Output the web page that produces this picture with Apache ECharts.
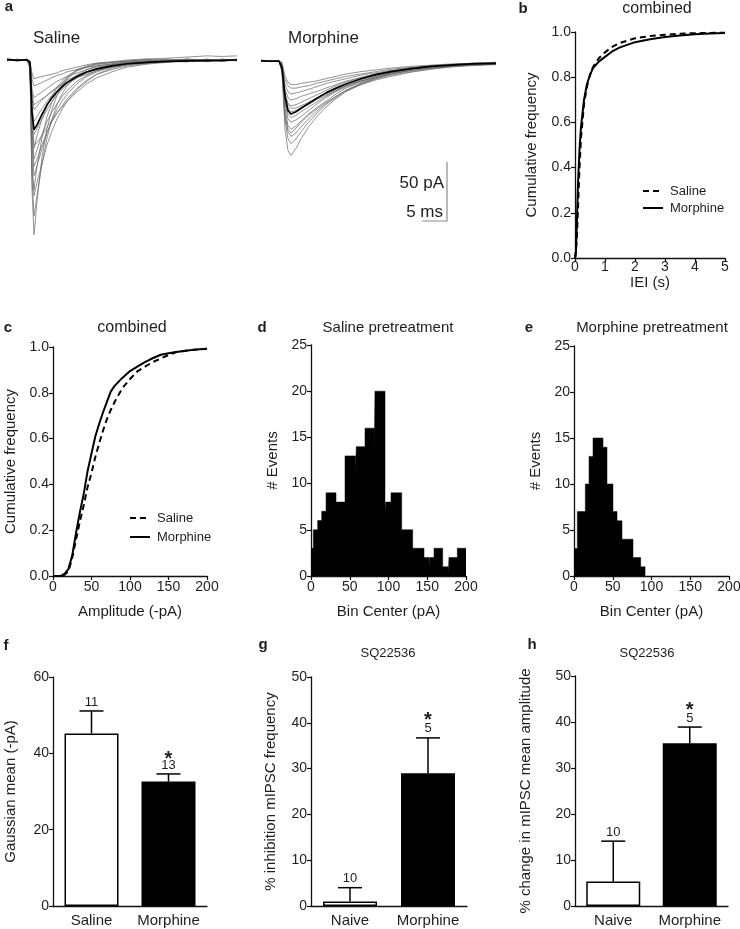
<!DOCTYPE html>
<html><head><meta charset="utf-8">
<script src="https://cdn.jsdelivr.net/npm/echarts@6/dist/echarts.min.js"></script>
<style>html,body{margin:0;padding:0;background:#fff}#c{width:740px;height:929px}</style>
</head><body><div id="c"></div>
<script>
// ---------- Panel a: example mIPSC traces (time ms, current pA) ----------
const salineTime = [0, 2, 4, 4.6, 5.0, 5.4, 6, 7, 8, 9, 10, 11, 12, 14, 16, 18, 21, 24, 28, 32, 36, 40, 43, 46];
const salineMean = [0.5, -0.3, 0.2, -2, -45, -59, -55, -46, -38, -32, -27, -23, -19, -14, -10, -7.5, -5, -3.2, -2, -1.2, -0.8, -0.5, -0.3, 0];
const salineTraces = [
  [0.8, -0.5, 0.6, -4, -110, -148, -120, -82, -58, -42, -30, -22, -16, -9, -6, -3, -2, -1, 0.5, -1, 1, -0.5, 0.6, -0.4],
  [-0.6, 0.7, -0.3, -6, -100, -132, -115, -88, -66, -50, -38, -29, -22, -13, -8, -5, -3, -1.5, -1, 0.8, -0.6, 0.4, -0.8, 0.5],
  [0.4, -0.8, 0.5, -3, -85, -115, -104, -88, -72, -60, -50, -42, -35, -25, -18, -12, -7, -4, -2, -1.5, 0.6, -1, 0.3, -0.6],
  [-0.3, 0.5, -0.6, -5, -70, -98, -90, -75, -62, -51, -42, -35, -29, -20, -14, -10, -6, -4, -2.5, -1, -1.6, 0.5, -0.4, 0.8],
  [0.6, -0.4, 0.3, -2, -60, -84, -76, -63, -52, -44, -37, -31, -26, -18, -13, -9, -5.5, -3, -2, -0.5, -1.2, 0.7, -0.9, 0.2],
  [-0.5, 0.4, -0.2, -3, -50, -72, -70, -64, -57, -51, -45, -40, -35, -27, -20, -15, -10, -6, -3.5, -2, -1, -0.5, -1.2, 0.4],
  [0.3, -0.6, 0.8, -4, -48, -63, -58, -50, -42, -35, -30, -25, -21, -15, -11, -8, -5, -3.5, -1.5, -1.8, 0.3, -0.6, 0.5, -0.3],
  [-0.7, 0.2, -0.5, -2, -40, -52, -48, -41, -35, -30, -26, -22, -19, -14, -10, -7, -4, -2.5, -1, -0.8, -1.4, 0.2, -0.5, 0.6],
  [0.5, -0.3, 0.4, -3, -33, -42, -39, -34, -30, -26, -23, -20, -17, -13, -10, -8, -5, -3, -2, -1, 0.5, -1.5, 0.8, -0.7],
  [-0.4, 0.6, -0.7, -2, -25, -32, -30, -27, -24, -21, -18, -16, -14, -11, -8, -6, -4, -2.5, -1.5, -0.5, -1, 0.3, -0.3, 0.5],
  [0.2, -0.5, 0.3, -1, -16, -22, -21, -19, -17, -15, -13, -12, -10, -8, -6, -5, -3.5, -2, -1, -0.6, 0.6, -0.8, 0.4, -0.2],
  [-0.6, 0.3, -0.2, -1, -11, -16, -15, -14, -13, -12, -11, -9, -8, -6, -4, -2.5, -1.5, 0, 1, 1.5, 2.5, 3.5, 3, 3.5],
  [0.1, -0.2, 0.5, -8, -95, -110, -90, -66, -48, -36, -27, -20, -15, -9, -6, -4, -2, -1, -0.5, 0.3, -0.4, 0.6, -0.2, 0.1],
  [-0.2, 0.5, -0.4, -3, -58, -75, -64, -50, -39, -30, -23, -18, -14, -8, -5, -3, -2, -1, 0.4, -0.6, 0.2, -0.4, 0.3, -0.5],
  [0.3, -0.4, 0.2, -5, -72, -90, -84, -72, -61, -52, -45, -39, -33, -24, -17, -12, -8, -5, -3, -1.5, -0.8, 0.4, -0.6, 0.2],
  [-0.4, 0.2, -0.6, -2, -28, -38, -36, -33, -30, -27, -24, -21, -19, -15, -12, -9, -6, -4, -2.5, -1.2, -0.4, -1, 0.5, -0.3]
];
const morphineTime = [0, 2, 3.6, 4.2, 4.8, 5.4, 6, 7, 8, 9.5, 11, 13, 15, 17, 20, 23, 26, 30, 34, 38, 42, 47];
const morphineMean = [0.3, -0.2, 0, -6, -30, -42, -45, -43, -40, -36, -32, -27, -23, -19.5, -15, -11.5, -9, -6.5, -4.5, -3.5, -2.5, -2];
const morphineTraces = [
  [0.6, -0.4, 0.2, -10, -58, -76, -80, -74, -66, -56, -48, -39, -32, -26, -20, -15, -11, -8, -5, -4, -3, -2.5],
  [-0.5, 0.3, -0.6, -8, -50, -66, -70, -66, -60, -52, -45, -37, -31, -25, -19, -14, -11, -8, -6, -4.5, -3, -3],
  [0.2, 0.5, -0.3, -6, -44, -60, -64, -61, -56, -49, -43, -36, -30, -25, -19, -15, -12, -9, -6.5, -5, -4, -2.5],
  [-0.3, -0.5, 0.4, -5, -40, -55, -58, -55, -51, -45, -40, -34, -28, -23, -18, -14, -10, -7, -5.5, -4, -3.5, -3],
  [0.4, 0.1, -0.2, -4, -36, -49, -52, -50, -47, -42, -37, -31, -26, -22, -17, -13, -10, -7.5, -5, -4, -2.5, -2],
  [-0.6, 0.4, 0.3, -5, -34, -45, -48, -46, -43, -39, -35, -30, -25, -21, -16, -12, -9, -6, -4.5, -3, -2, -1.5],
  [0.2, -0.3, -0.1, -3, -30, -40, -43, -42, -40, -37, -33, -29, -25, -21, -17, -13, -10, -7, -5, -4, -3.5, -2.5],
  [-0.2, 0.6, -0.4, -4, -27, -36, -38, -37, -35, -32, -29, -25, -21, -18, -14, -11, -8.5, -6, -4, -3, -2, -1.5],
  [0.5, -0.2, 0.2, -3, -24, -31, -33, -32, -30, -28, -26, -23, -20, -17, -14, -11, -9, -7, -5, -3.5, -2.5, -2],
  [-0.4, 0.3, -0.5, -2, -20, -26, -28, -27, -26, -24, -22, -19, -17, -15, -12, -10, -8, -6, -4.5, -3.5, -3, -2.5],
  [0.3, -0.5, 0.4, -2, -16, -21, -23, -23, -22, -21, -19, -17, -15, -13, -11, -9, -7, -5.5, -4, -3, -2, -1.5],
  [-0.2, 0.2, -0.3, -1, -13, -18, -20, -20, -19, -18, -17, -15, -13, -11, -9, -7.5, -6, -4.5, -3.5, -2.5, -2, -1],
  [0.1, -0.3, 0.4, -7, -47, -58, -61, -57, -52, -46, -41, -35, -30, -25, -20, -16, -13, -9.5, -7, -5, -3.5, -3],
  [-0.3, 0.4, -0.2, -3, -29, -37, -40, -40, -38, -35, -32, -28, -24, -21, -17, -14, -11, -8, -6, -4.5, -3, -2]
];
// scale bar: corner (ms, pA) and lengths
const scaleCorner = [37.2, -135.6];
const scaleLenMs = 5;
const scaleLenPA = 50;

// ---------- Panel b: IEI cumulative ----------
const iei = [0, 0.03, 0.06, 0.1, 0.15, 0.2, 0.3, 0.4, 0.5, 0.6, 0.8, 1.0, 1.25, 1.5, 2.0, 2.5, 3.0, 3.5, 4.0, 4.5, 5.0];
const ieiSaline = [0, 0.0, 0.08, 0.22, 0.4, 0.53, 0.68, 0.76, 0.81, 0.845, 0.885, 0.91, 0.935, 0.952, 0.972, 0.982, 0.988, 0.992, 0.995, 0.996, 0.997];
const ieiMorphine = [0, 0.02, 0.15, 0.33, 0.48, 0.58, 0.7, 0.77, 0.81, 0.84, 0.87, 0.89, 0.915, 0.932, 0.955, 0.968, 0.978, 0.985, 0.99, 0.993, 0.996];

// ---------- Panel c: amplitude cumulative ----------
const amp = [0, 10, 15, 20, 25, 30, 35, 40, 45, 50, 55, 60, 65, 70, 75, 80, 90, 100, 110, 120, 130, 140, 150, 160, 170, 180, 190, 200];
const ampMorphine = [0, 0, 0.01, 0.03, 0.09, 0.19, 0.28, 0.36, 0.46, 0.535, 0.61, 0.665, 0.715, 0.76, 0.805, 0.83, 0.865, 0.895, 0.915, 0.935, 0.952, 0.966, 0.973, 0.978, 0.983, 0.987, 0.99, 0.992];
const ampSaline = [0, 0, 0.005, 0.02, 0.08, 0.16, 0.24, 0.31, 0.39, 0.45, 0.52, 0.58, 0.635, 0.685, 0.725, 0.76, 0.82, 0.86, 0.895, 0.915, 0.935, 0.95, 0.965, 0.978, 0.983, 0.987, 0.99, 0.992];
const legendNames = ['Saline', 'Morphine'];

// ---------- Panels d, e: histograms (bin edges pA, counts) ----------
const salineEdges = [0, 3, 8.6, 13.8, 19.4, 32.3, 43.9, 57.6, 58.4, 69.7, 81.7, 82.5, 95.5, 96.3, 103.2, 117, 131.2, 145.8, 152.3, 153.1, 158.7, 169.9, 177.2, 178, 188.8, 200];
const salineCounts = [3, 5, 6, 7, 9, 8, 13, 11, 14, 16, 13, 20, 7, 8, 9, 5, 3, 2, 1, 2, 3, 1, 0, 2, 3];
const morphineEdges = [0, 4.3, 14.6, 19.4, 24.5, 37.4, 42.6, 50.3, 55.5, 61.9, 76.1, 86, 92];
const morphineCounts = [3, 7, 10, 13, 15, 14, 10, 7, 6, 4, 2, 1];

// ---------- Panels f, g, h: bar charts ----------
const fCategories = ['Saline', 'Morphine'];
const fMeans = [45.2, 32.6];
const fSem = [5.9, 2.0];
const fN = ['11', '13'];
const fSig = ['', '*'];

const gCategories = ['Naive', 'Morphine'];
const gMeans = [1.0, 29.0];
const gSem = [3.0, 7.7];
const gN = ['10', '5'];
const gSig = ['', '*'];

const hCategories = ['Naive', 'Morphine'];
const hMeans = [5.3, 35.4];
const hSem = [8.8, 3.5];
const hN = ['10', '5'];
const hSig = ['', '*'];

// ---------- styling ----------
const FONT = 'Arial, "Liberation Sans", Helvetica, sans-serif';
const TXT = '#1e1e1e';
const AX = '#111';
const barFills = ['#ffffff', '#000000'];

function pairs(xs, ys) { return xs.map((x, i) => [x, ys[i]]); }
function histPts(edges, counts) { return edges.map((e, i) => [e, i < counts.length ? counts[i] : counts[counts.length - 1]]); }

function valAxis(o) {
  return Object.assign({
    type: 'value',
    axisLine: { show: true, onZero: false, lineStyle: { color: AX, width: 1.3 } },
    axisTick: { show: true, inside: false, length: 4, lineStyle: { color: AX, width: 1.2 } },
    axisLabel: { color: TXT, fontSize: 14, fontFamily: FONT, margin: 4 },
    splitLine: { show: false },
    nameLocation: 'middle',
    nameTextStyle: { color: TXT, fontSize: 15, fontFamily: FONT }
  }, o);
}
function catAxis(o) {
  return Object.assign({
    type: 'category',
    axisLine: { show: true, lineStyle: { color: AX, width: 1.3 } },
    axisTick: { show: false },
    axisLabel: { color: TXT, fontSize: 15, fontFamily: FONT, margin: 7, interval: 0 },
    splitLine: { show: false }
  }, o);
}

const grids = [
  { left: 7, top: 36.4, width: 231, height: 212.4 },
  { left: 261, top: 37.4, width: 235, height: 212.4 },
  { left: 575, top: 32, width: 150, height: 226 },
  { left: 53, top: 347, width: 154, height: 229 },
  { left: 311, top: 345, width: 155, height: 231 },
  { left: 574, top: 346, width: 155, height: 230 },
  { left: 53, top: 677, width: 154, height: 229 },
  { left: 311, top: 677, width: 156, height: 229 },
  { left: 575, top: 676, width: 153, height: 230 }
].map(g => Object.assign({ containLabel: false, outerBoundsMode: 'none' }, g));

const oneDec = v => v.toFixed(1);

const xAxes = [
  { gridIndex: 0, type: 'value', min: 0, max: 46.2, show: false },
  { gridIndex: 1, type: 'value', min: 0, max: 47, show: false },
  valAxis({ gridIndex: 2, min: 0, max: 5, interval: 1, name: 'IEI (s)', nameGap: 17, axisLabel: { color: TXT, fontSize: 14, fontFamily: FONT, margin: 2 } }),
  valAxis({ gridIndex: 3, min: 0, max: 200, interval: 50, name: 'Amplitude (-pA)', nameGap: 28 }),
  valAxis({ gridIndex: 4, min: 0, max: 200, interval: 50, name: 'Bin Center (pA)', nameGap: 28 }),
  valAxis({ gridIndex: 5, min: 0, max: 200, interval: 50, name: 'Bin Center (pA)', nameGap: 28 }),
  catAxis({ gridIndex: 6, data: fCategories }),
  catAxis({ gridIndex: 7, data: gCategories }),
  catAxis({ gridIndex: 8, data: hCategories })
];
const yAxes = [
  { gridIndex: 0, type: 'value', min: -160, max: 20, show: false },
  { gridIndex: 1, type: 'value', min: -160, max: 20, show: false },
  valAxis({ gridIndex: 2, min: 0, max: 1, interval: 0.2, name: 'Cumulative frequency', nameGap: 36, axisLabel: { color: TXT, fontSize: 14, fontFamily: FONT, margin: 4, formatter: oneDec } }),
  valAxis({ gridIndex: 3, min: 0, max: 1, interval: 0.2, name: 'Cumulative frequency', nameGap: 35, axisLabel: { color: TXT, fontSize: 14, fontFamily: FONT, margin: 4, formatter: oneDec } }),
  valAxis({ gridIndex: 4, min: 0, max: 25, interval: 5, name: '# Events', nameGap: 31 }),
  valAxis({ gridIndex: 5, min: 0, max: 25, interval: 5, name: '# Events', nameGap: 31 }),
  valAxis({ gridIndex: 6, min: 0, max: 60, interval: 20, name: 'Gaussian mean (-pA)', nameGap: 35 }),
  valAxis({ gridIndex: 7, min: 0, max: 50, interval: 10, name: '% inhibition mIPSC frequency', nameGap: 33 }),
  valAxis({ gridIndex: 8, min: 0, max: 50, interval: 10, name: '% change in mIPSC mean amplitude', nameGap: 42 })
];

const series = [];
function traceSeries(idx, time, vals, isMean) {
  return {
    type: 'line', xAxisIndex: idx, yAxisIndex: idx, data: pairs(time, vals),
    symbol: 'none', silent: true, animation: false, clip: false,
    z: isMean ? 4 : 2,
    lineStyle: isMean ? { color: '#000', width: 1.7 } : { color: '#6a6a6a', width: 0.8, opacity: 0.9 }
  };
}
salineTraces.forEach(t => series.push(traceSeries(0, salineTime, t, false)));
series.push(traceSeries(0, salineTime, salineMean, true));
morphineTraces.forEach(t => series.push(traceSeries(1, morphineTime, t, false)));
series.push(traceSeries(1, morphineTime, morphineMean, true));
// scale bar
series.push({
  type: 'line', xAxisIndex: 1, yAxisIndex: 1, symbol: 'none', silent: true, animation: false, clip: false,
  data: [[scaleCorner[0] - scaleLenMs, scaleCorner[1]], scaleCorner, [scaleCorner[0], scaleCorner[1] + scaleLenPA]],
  lineStyle: { color: '#8a8a8a', width: 1.2 }
});

function cdf(idx, name, xs, ys, dashed) {
  return {
    name: name, type: 'line', xAxisIndex: idx, yAxisIndex: idx, data: pairs(xs, ys),
    symbol: 'none', animation: false, z: dashed ? 4 : 3, itemStyle: { color: '#000' },
    lineStyle: { color: '#000', width: 2, type: dashed ? [6, 4] : 'solid' }
  };
}
series.push(cdf(2, 'Saline', iei, ieiSaline, true));
series.push(cdf(2, 'Morphine', iei, ieiMorphine, false));
series.push(cdf(3, 'Saline', amp, ampSaline, true));
series.push(cdf(3, 'Morphine', amp, ampMorphine, false));

function hist(idx, edges, counts) {
  return {
    type: 'line', xAxisIndex: idx, yAxisIndex: idx, step: 'end', data: histPts(edges, counts),
    symbol: 'none', animation: false, silent: true,
    lineStyle: { color: '#000', width: 0.5 },
    areaStyle: { color: '#000', opacity: 1 }
  };
}
series.push(hist(4, salineEdges, salineCounts));
series.push(hist(5, morphineEdges, morphineCounts));

function bars(idx, means) {
  return {
    type: 'bar', xAxisIndex: idx, yAxisIndex: idx, barWidth: 54, animation: false, silent: true,
    data: means.map((m, i) => ({ value: m, itemStyle: { color: barFills[i], borderColor: '#000', borderWidth: 1.5 } }))
  };
}
function errs(idx, means, sem, ns, sigs, starOff) {
  return {
    type: 'custom', xAxisIndex: idx, yAxisIndex: idx, animation: false, silent: true, z: 5,
    data: means.map((m, i) => [i, m, sem[i]]),
    renderItem: function (params, api) {
      const i = params.dataIndex;
      const c = api.value(0), m = api.value(1), s = api.value(2);
      const b = api.coord([c, m]);
      const t = api.coord([c, m + s]);
      const ch = [
        { type: 'line', shape: { x1: b[0], y1: b[1], x2: t[0], y2: t[1] }, style: { stroke: '#000', lineWidth: 1.5 } },
        { type: 'line', shape: { x1: t[0] - 12, y1: t[1], x2: t[0] + 12, y2: t[1] }, style: { stroke: '#000', lineWidth: 1.5 } },
        { type: 'text', style: { text: ns[i], x: t[0], y: t[1] - 9, textAlign: 'center', textVerticalAlign: 'middle', fontSize: 13, fontFamily: FONT, fill: TXT } }
      ];
      if (sigs[i]) ch.push({ type: 'text', style: { text: sigs[i], x: t[0], y: t[1] - starOff, textAlign: 'center', textVerticalAlign: 'middle', fontSize: 20, fontWeight: 'bold', fontFamily: FONT, fill: TXT } });
      return { type: 'group', children: ch };
    }
  };
}
series.push(bars(6, fMeans), errs(6, fMeans, fSem, fN, fSig, 14));
series.push(bars(7, gMeans), errs(7, gMeans, gSem, gN, gSig, 17));
series.push(bars(8, hMeans), errs(8, hMeans, hSem, hN, hSig, 17));

function txt(text, x, y, size, align, bold) {
  return { type: 'text', x: x, y: y, silent: true, style: { text: text, textAlign: align || 'center', textVerticalAlign: 'middle', fontSize: size, fontWeight: bold ? 'bold' : 'normal', fontFamily: FONT, fill: TXT } };
}
function legendKey(x, y, dashed) {
  return { type: 'line', silent: true, shape: { x1: x, y1: y, x2: x + 20, y2: y }, style: { stroke: '#000', lineWidth: 2, lineDash: dashed ? [6, 4] : null } };
}
const graphics = [
  txt('a', 9, 7, 15, 'center', true),
  txt('b', 523, 9, 15, 'center', true),
  txt('c', 8, 328, 15, 'center', true),
  txt('d', 262, 328, 15, 'center', true),
  txt('e', 529, 328, 15, 'center', true),
  txt('f', 6, 646, 15, 'center', true),
  txt('g', 263, 645, 15, 'center', true),
  txt('h', 532, 645, 15, 'center', true),
  txt('combined', 657, 9, 16),
  txt('combined', 132, 328, 16),
  txt('Saline pretreatment', 388, 328, 15),
  txt('Morphine pretreatment', 652, 328, 15),
  txt('SQ22536', 388, 653, 13),
  txt('SQ22536', 647, 653, 13),
  txt('Saline', 33, 38, 17, 'left'),
  txt('Morphine', 288, 38, 17, 'left'),
  txt('50 pA', 444, 183, 17, 'right'),
  txt('5 ms', 443, 212, 17, 'right'),
  // legends (b, c)
  legendKey(643, 191, true), txt(legendNames[0], 670, 191, 13, 'left'),
  legendKey(643, 208, false), txt(legendNames[1], 670, 208, 13, 'left'),
  legendKey(130, 518, true), txt(legendNames[0], 157, 518, 13, 'left'),
  legendKey(130, 537, false), txt(legendNames[1], 157, 537, 13, 'left')
];

const chart = echarts.init(document.getElementById('c'), null, { renderer: 'canvas' });
chart.setOption({
  animation: false,
  backgroundColor: '#fff',
  grid: grids,
  xAxis: xAxes,
  yAxis: yAxes,
  graphic: { elements: graphics },
  series: series
});
</script></body></html>
